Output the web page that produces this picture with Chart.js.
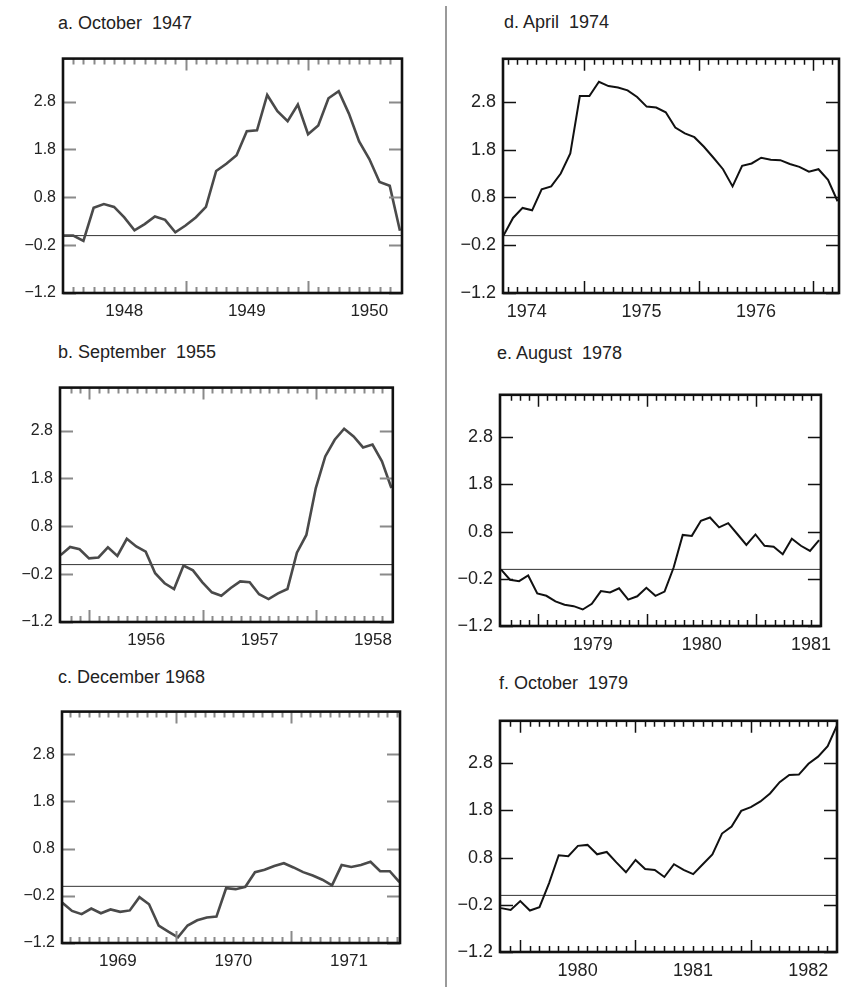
<!DOCTYPE html>
<html>
<head>
<meta charset="utf-8">
<script src="https://cdn.jsdelivr.net/npm/chart.js@4.4.1/dist/chart.umd.min.js"></script>
<style>
    html, body { margin: 0; padding: 0; background: #fff; }
    body { width: 841px; height: 987px; position: relative; overflow: hidden; font-family: "Liberation Sans", Arial, sans-serif; }
    canvas { position: absolute; }
    .title { position: absolute; font-size: 18px; line-height: 20px; color: #222; white-space: pre; }
    .divider { position: absolute; left: 445px; top: 6px; width: 2px; height: 981px; background: #9a9a9a; }
</style>
</head>
<body>
<div class="divider"></div>
<div id="titles"></div>
<canvas id="chartA"></canvas>
<canvas id="chartB"></canvas>
<canvas id="chartC"></canvas>
<canvas id="chartD"></canvas>
<canvas id="chartE"></canvas>
<canvas id="chartF"></canvas>

<script>
// =========================
// Data (one value per month)
// =========================
const yTickValues = [-1.2, -0.2, 0.8, 1.8, 2.8];
const yearLabelMonths = [6, 18, 30];   // mid-year, months after january of the first labelled year
const zeroLevel = 0;

const titleA = "a. October  1947";
const yearsA = ["1948", "1949", "1950"];
const startA = 0;
const valuesA = [0.0, 0.0, -0.11, 0.58, 0.66, 0.6, 0.38, 0.11, 0.24, 0.4, 0.33, 0.07, 0.21, 0.38, 0.6, 1.35, 1.5,
    1.68, 2.18, 2.2, 2.94, 2.6, 2.39, 2.74, 2.12, 2.3, 2.87, 3.02, 2.55, 1.97, 1.6, 1.12, 1.04, 0.1];

const titleB = "b. September  1955";
const yearsB = ["1956", "1957", "1958"];
const startB = -3.05;
const valuesB = [0.2, 0.37, 0.32, 0.13, 0.15, 0.36, 0.18, 0.54, 0.38, 0.27, -0.18, -0.39, -0.51, -0.02, -0.12,
    -0.37, -0.58, -0.65, -0.49, -0.35, -0.37, -0.62, -0.72, -0.6, -0.51, 0.25, 0.62, 1.6, 2.26, 2.61, 2.84, 2.68,
    2.45, 2.51, 2.16, 1.6];

const titleC = "c. December 1968";
const yearsC = ["1969", "1970", "1971"];
const startC = 0.24;
const valuesC = [-0.35, -0.52, -0.59, -0.47, -0.57, -0.49, -0.54, -0.51, -0.23, -0.38, -0.83, -0.96, -1.08, -0.83,
    -0.72, -0.66, -0.64, -0.04, -0.06, -0.01, 0.3, 0.35, 0.43, 0.49, 0.4, 0.3, 0.23, 0.14, 0.02, 0.45, 0.41, 0.45,
    0.52, 0.32, 0.32, 0.09];

const titleD = "d. April  1974";
const yearsD = ["1974", "1975", "1976"];
const startD = 3.55;
const valuesD = [0.0, 0.37, 0.58, 0.53, 0.97, 1.03, 1.3, 1.72, 2.92, 2.92, 3.22, 3.13, 3.1, 3.04, 2.9, 2.7, 2.68,
    2.58, 2.26, 2.14, 2.06, 1.86, 1.63, 1.39, 1.03, 1.46, 1.51, 1.63, 1.59, 1.58, 1.5, 1.44, 1.34, 1.39, 1.17, 0.72];

const titleE = "e. August  1978";
const yearsE = ["1979", "1980", "1981"];
const startE = -4.1;
const valuesE = [0.0, -0.22, -0.25, -0.13, -0.51, -0.56, -0.68, -0.75, -0.78, -0.85, -0.73, -0.46, -0.49, -0.4,
    -0.64, -0.57, -0.39, -0.56, -0.47, 0.04, 0.73, 0.71, 1.03, 1.1, 0.89, 0.98, 0.75, 0.52, 0.74, 0.5, 0.48, 0.32,
    0.65, 0.5, 0.39, 0.62];

const titleF = "f. October  1979";
const yearsF = ["1980", "1981", "1982"];
const startF = -1.97;
const valuesF = [-0.27, -0.31, -0.12, -0.32, -0.25, 0.26, 0.85, 0.83, 1.05, 1.07, 0.87, 0.92, 0.7, 0.49, 0.75, 0.56,
    0.54, 0.39, 0.66, 0.54, 0.45, 0.66, 0.87, 1.31, 1.46, 1.79, 1.87, 1.99, 2.16, 2.4, 2.55, 2.56, 2.79, 2.94, 3.16, 3.62];

// =========================
// Layout of the six frames
// =========================
const panels = [
    { id: "chartA", title: titleA, years: yearsA, start: startA, values: valuesA, left: 63, right: 402, top: 50, bottom: 293, xMin: 0, xMax: 33.2, titleX: 58, titleY: 13, faded: true },
    { id: "chartB", title: titleB, years: yearsB, start: startB, values: valuesB, left: 60, right: 398, top: 379, bottom: 622, xMin: -3.12, xMax: 32.1, titleX: 58, titleY: 342, faded: true },
    { id: "chartC", title: titleC, years: yearsC, start: startC, values: valuesC, left: 62, right: 400, top: 703, bottom: 943, xMin: 0.2, xMax: 35.3, titleX: 58, titleY: 667, faded: true },
    { id: "chartD", title: titleD, years: yearsD, start: startD, values: valuesD, left: 503, right: 839, top: 49, bottom: 293, xMin: 3.5, xMax: 38.7, titleX: 504, titleY: 12, faded: false },
    { id: "chartE", title: titleE, years: yearsE, start: startE, values: valuesE, left: 500, right: 837, top: 385, bottom: 626, xMin: -4.2, xMax: 31.1, titleX: 497, titleY: 343, faded: false },
    { id: "chartF", title: titleF, years: yearsF, start: startF, values: valuesF, left: 500, right: 837, top: 711, bottom: 952, xMin: -2.08, xMax: 33.0, titleX: 499, titleY: 673, faded: false }
];

const AXIS_W = 60, AXIS_H = 34, PAD_TOP = 8, PAD_RIGHT = 2;

// inward monthly ticks, y ticks on both sides, and the box
const frameTicks = {
    id: "frameTicks",
    afterDatasetsDraw(chart, args, opts) {
        const { ctx, chartArea: a, scales: { x, y } } = chart;
        ctx.save();
        ctx.strokeStyle = opts.tickColor;
        ctx.lineWidth = opts.tickWidth;
        ctx.beginPath();
        for (let m = Math.ceil(x.min + 0.3); m <= x.max - 0.3; m++) {
            const px = Math.round(x.getPixelForValue(m)) + 0.5;
            const len = m % 12 === 0 ? 12 : 6;
            ctx.moveTo(px, a.top); ctx.lineTo(px, a.top + len);
            ctx.moveTo(px, a.bottom); ctx.lineTo(px, a.bottom - len);
        }
        yTickValues.forEach(v => {
            const py = Math.round(y.getPixelForValue(v)) + 0.5;
            ctx.moveTo(a.left, py); ctx.lineTo(a.left + 13, py);
            ctx.moveTo(a.right, py); ctx.lineTo(a.right - 13, py);
        });
        ctx.stroke();
        ctx.strokeStyle = "#111";
        ctx.lineWidth = 2.6;
        ctx.strokeRect(a.left, a.top, a.right - a.left, a.bottom - a.top);
        ctx.restore();
    }
};

const titleBox = document.getElementById("titles");

panels.forEach(p => {

    const t = document.createElement("div");
    t.className = "title";
    t.textContent = p.title;
    t.style.left = p.titleX + "px";
    t.style.top = p.titleY + "px";
    titleBox.appendChild(t);

    const canvas = document.getElementById(p.id);
    canvas.width = p.right - p.left + AXIS_W + PAD_RIGHT;
    canvas.height = p.bottom - p.top + PAD_TOP + AXIS_H;
    canvas.style.left = (p.left - AXIS_W) + "px";
    canvas.style.top = (p.top - PAD_TOP) + "px";

    const yFont = p.faded ? 16 : 18;
    const xFont = p.faded ? 17 : 18;

    new Chart(canvas, {
        type: "line",
        data: {
            datasets: [{
                data: p.values.map((v, i) => ({ x: p.start + i, y: v })),
                borderColor: p.faded ? "#4a4a4a" : "#111",
                borderWidth: p.faded ? 2.6 : 2,
                pointRadius: 0,
                tension: 0
            }, {
                data: [{ x: p.xMin, y: zeroLevel }, { x: p.xMax, y: zeroLevel }],
                borderColor: "#333",
                borderWidth: 1,
                pointRadius: 0
            }]
        },
        options: {
            responsive: false,
            animation: false,
            events: [],
            layout: { padding: { top: PAD_TOP, right: PAD_RIGHT, left: 0, bottom: 0 } },
            plugins: {
                legend: { display: false },
                tooltip: { enabled: false },
                frameTicks: { tickColor: p.faded ? "#8a8a8a" : "#111", tickWidth: p.faded ? 2 : 1.5 }
            },
            scales: {
                x: {
                    type: "linear",
                    min: p.xMin,
                    max: p.xMax,
                    grid: { display: false, drawTicks: false },
                    border: { display: false },
                    afterBuildTicks: s => { s.ticks = yearLabelMonths.map(v => ({ value: v })); },
                    afterFit: s => { s.height = AXIS_H; },
                    ticks: {
                        padding: 8,
                        autoSkip: false,
                        maxRotation: 0,
                        color: "#222",
                        font: { family: "Liberation Sans", size: xFont },
                        callback: (v, i) => p.years[i]
                    }
                },
                y: {
                    min: -1.2,
                    max: 3.7,
                    grid: { display: false, drawTicks: false },
                    border: { display: false },
                    afterBuildTicks: s => { s.ticks = yTickValues.map(v => ({ value: v })); },
                    afterFit: s => { s.width = AXIS_W; },
                    ticks: {
                        padding: 7,
                        color: "#222",
                        font: { family: "Liberation Sans", size: yFont },
                        callback: v => v.toFixed(1).replace("-", "\u2212")
                    }
                }
            }
        },
        plugins: [frameTicks]
    });
});
</script>
</body>
</html>
